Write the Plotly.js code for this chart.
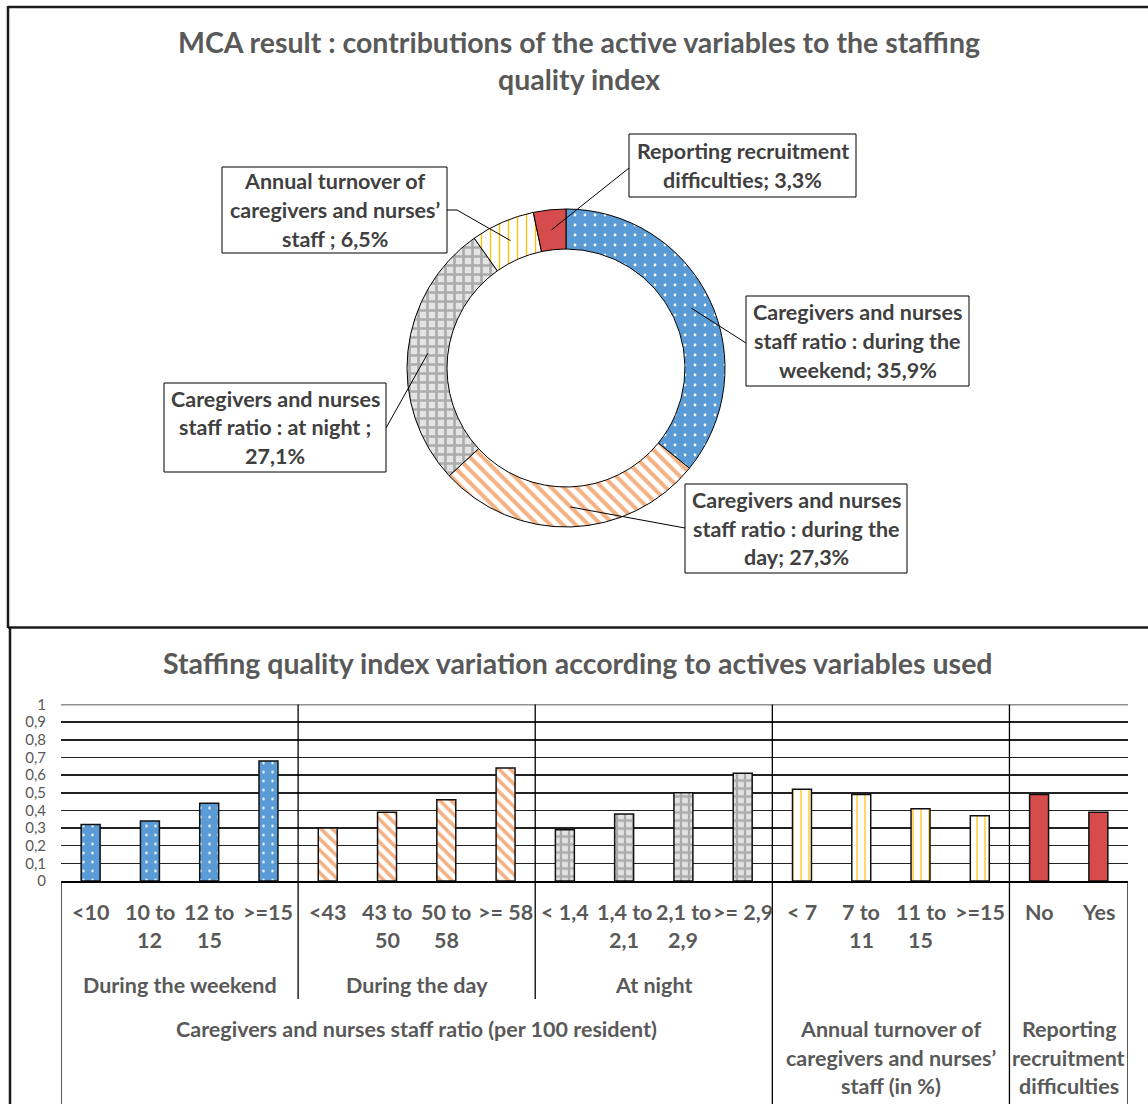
<!DOCTYPE html>
<html><head><meta charset="utf-8">
<script src="https://cdn.plot.ly/plotly-3.0.1.min.js"></script>
<style>html,body{margin:0;padding:0;background:#fff}#chart{width:1148px;height:1104px}</style>
</head><body><div id="chart"></div>
<script>
// ---------- DATA ----------
const donutLabels = ["Caregivers and nurses<br>staff ratio : during the<br>weekend", "Caregivers and nurses<br>staff ratio : during the<br>day", "Caregivers and nurses<br>staff ratio : at night ;<br>", "Annual turnover of<br>caregivers and nurses’<br>staff ;", "Reporting recruitment<br>difficulties;"];
const donutValues = [35.9, 27.3, 27.1, 6.5, 3.3];

const barCategories = ["<10", "10 to<br>12", "12 to<br>15", ">=15", "<43", "43 to<br>50", "50 to<br>58", ">= 58", "< 1,4", "1,4 to<br>2,1", "2,1 to<br>2,9", ">= 2,9", "< 7", "7 to<br>11", "11 to<br>15", ">=15", "No", "Yes"];
const barValues = [0.32, 0.34, 0.44, 0.68, 0.30, 0.39, 0.46, 0.64, 0.29, 0.38, 0.50, 0.61, 0.52, 0.49, 0.41, 0.37, 0.49, 0.39];
const barSubGroup = [0,0,0,0, 1,1,1,1, 2,2,2,2, 3,3,3,3, 4,4];
const subGroupNames = ["During the weekend", "During the day", "At night", "", ""];
const subGroupMain = [0, 0, 0, 1, 2];
const mainGroupNames = ["Caregivers and nurses staff ratio (per 100 resident)", "Annual turnover of<br>caregivers and nurses’<br>staff (in %)", "Reporting<br>recruitment<br>difficulties"];

const titleTop = "MCA result : contributions of the active variables to the staffing<br>quality index";
const titleBottom = "Staffing quality index variation according to actives variables used";

// ---------- STYLE ----------
const W = 1148, H = 1104;
const FONT = "Lato, 'Open Sans', sans-serif";
const GREY = "#595959", DARK = "#404040";
const groupColor = ["#5B9BD5", "#F4B183", "#A6A6A6", "#FFC000", "#D64B4B"];
const groupShape = [".", "\\", "+", "|", ""];
const groupFg = ["#ffffff", "#F4B183", "#ABABAB", "#FFC000", "#D64B4B"];
const groupBg = ["#5B9BD5", "#ffffff", "#E4E4E4", "#ffffff", "#D64B4B"];
const groupSize = [10, 9, 9, 9, 8];
const groupSolid = [0.06, 0.45, 0.5, 0.15, 0.3];

const px = x => x / W;
const py = y => 1 - y / H;

// donut geometry (pixels)
const cx = 566, cy = 368, rOut = 159, rIn = 119;
const rMid = (rOut + rIn) / 2;

const shapes = [];
const annotations = [];

function line(x0, y0, x1, y1, w, c) {
  shapes.push({type: "line", xref: "paper", yref: "paper", x0: px(x0), y0: py(y0), x1: px(x1), y1: py(y1),
    line: {color: c || "#000", width: w || 1}});
}
function textLines(str, x, yFirst, spacing, size, color, xref) {
  str.split("<br>").forEach((t, i) => {
    if (!t) return;
    annotations.push({text: t, xref: xref || "paper", yref: "paper",
      x: xref === "x" ? x : px(x), y: py(yFirst + i * spacing),
      xanchor: "center", yanchor: "middle", showarrow: false,
      font: {family: FONT, size: size, color: color, weight: "bold"}});
  });
}

// panel borders
line(8, 7, 1148, 7, 2.5, "#1a1a1a");
line(8, 6, 8, 628, 2.5, "#1a1a1a");
line(8, 627.5, 1148, 627.5, 2.5, "#1a1a1a");
line(10, 627, 10, 1104, 2.5, "#1a1a1a");

// titles
textLines(titleTop, 579, 42, 37, 28.5, GREY);
textLines(titleBottom, 578, 663, 30, 28.5, GREY);

// donut callouts
const total = donutValues.reduce((a, b) => a + b, 0);
const boxes = [[746, 296, 969, 386], [685, 484, 907, 573], [164, 383, 386, 472], [222, 167, 447, 253], [629, 134, 856, 197]];
const anchors = [[[746, 343]], [[685, 528]], [[386, 428]], [[457, 210], [447, 210]], [[629, 168]]];
let cum = 0;
donutValues.forEach((v, i) => {
  const f = (cum + v / 2) / total;
  cum += v;
  const th = 2 * Math.PI * f;
  let x0 = cx + rMid * Math.sin(th), y0 = cy - rMid * Math.cos(th);
  anchors[i].forEach(a => { line(x0, y0, a[0], a[1], 1, "#000"); x0 = a[0]; y0 = a[1]; });
  const b = boxes[i];
  shapes.push({type: "rect", xref: "paper", yref: "paper", x0: px(b[0]), y0: py(b[1]), x1: px(b[2]), y1: py(b[3]),
    line: {color: "#000", width: 1}, fillcolor: "#fff"});
  const pct = v.toFixed(1).replace(".", ",") + "%";
  const lbl = donutLabels[i].endsWith("<br>") ? donutLabels[i] + pct : donutLabels[i] + " " + pct;
  const txt = lbl.replace("weekend ", "weekend; ").replace("day ", "day; ");
  const nLines = txt.split("<br>").length;
  const spacing = 28.7;
  const mid = (b[1] + b[3]) / 2;
  textLines(txt, (b[0] + b[2]) / 2, mid - (nLines - 1) * spacing / 2, spacing, 21.5, DARK);
});

// bar category table
const xIdx = barValues.map((_, i) => i);
xIdx.forEach(i => textLines(barCategories[i], i, 912, 28, 21.5, GREY, "x"));
subGroupNames.forEach((name, g) => {
  const idx = xIdx.filter(i => barSubGroup[i] === g);
  const c = (idx[0] + idx[idx.length - 1]) / 2;
  if (name) textLines(name, c, 985, 28, 21.5, GREY, "x");
});
mainGroupNames.forEach((name, m) => {
  const idx = xIdx.filter(i => subGroupMain[barSubGroup[i]] === m);
  const c = (idx[0] + idx[idx.length - 1]) / 2;
  textLines(name, c, 1029, 28.5, 21.5, GREY, "x");
});
// dividers
const plotTop = 704.5, axisY = 881;
function vline(xd, yTop, yBot) {
  shapes.push({type: "line", xref: "x", yref: "paper", x0: xd, x1: xd, y0: py(yTop), y1: py(yBot),
    line: {color: "#000", width: 1.3}});
}
vline(-0.5, axisY, 1104);
vline(barValues.length - 0.5, axisY, 1104);
for (let i = 1; i < barValues.length; i++) {
  if (barSubGroup[i] !== barSubGroup[i - 1]) {
    const major = subGroupMain[barSubGroup[i]] !== subGroupMain[barSubGroup[i - 1]];
    vline(i - 0.5, plotTop, major ? 1104 : 999);
  }
}
// top gridline at 1 (range edge)
shapes.push({type: "line", xref: "paper", yref: "y", x0: px(61), x1: px(1128), y0: 1, y1: 1,
  line: {color: "#222", width: 1.5}});

const data = [
  {
    type: "pie", values: donutValues, labels: donutLabels.map(s => s.replace(/<br>/g, " ")),
    sort: false, direction: "clockwise", rotation: 0, hole: rIn / rOut,
    textinfo: "none", hoverinfo: "label+value", showlegend: false,
    domain: {x: [px(cx - rOut), px(cx + rOut)], y: [py(cy + rOut), py(cy - rOut)]},
    marker: {colors: groupColor, line: {color: "#000", width: 1},
      pattern: {shape: groupShape, fgcolor: groupFg, bgcolor: groupBg, size: groupSize, solidity: groupSolid}}
  }
];
// one bar trace per variable group (scalar colours so patterns keep their background)
groupColor.forEach((col, g) => {
  const idx = xIdx.filter(i => barSubGroup[i] === g);
  data.push({
    type: "bar", x: idx, y: idx.map(i => barValues[i]), width: 0.32, showlegend: false,
    hovertext: idx.map(i => barCategories[i].replace(/<br>/g, " ")), hoverinfo: "text+y",
    marker: {color: col, line: {color: "#111", width: 1.5},
      pattern: {shape: groupShape[g], fgcolor: groupFg[g], bgcolor: groupBg[g], size: groupSize[g] - 1, solidity: groupSolid[g]}}
  });
});

const layout = {
  width: W, height: H, margin: {l: 0, r: 0, t: 0, b: 0},
  paper_bgcolor: "#fff", plot_bgcolor: "rgba(0,0,0,0)",
  separators: ", ", barmode: "overlay",
  font: {family: FONT, color: GREY},
  xaxis: {domain: [px(61), px(1128)], range: [-0.5, barValues.length - 0.5], showticklabels: false,
    showgrid: false, zeroline: false, showline: true, linecolor: "#000", linewidth: 1.5, ticks: "", fixedrange: true},
  yaxis: {domain: [py(axisY), py(plotTop)], range: [0, 1], dtick: 0.1, tick0: 0, showgrid: true,
    gridcolor: "#222", gridwidth: 1.5, zeroline: false, showline: false, ticks: "",
    ticklabelstandoff: 14, tickfont: {family: FONT, size: 15, color: GREY}, fixedrange: true},
  shapes: shapes,
  annotations: annotations
};

Plotly.newPlot("chart", data, layout, {displayModeBar: false, staticPlot: true});
</script>
</body></html>
